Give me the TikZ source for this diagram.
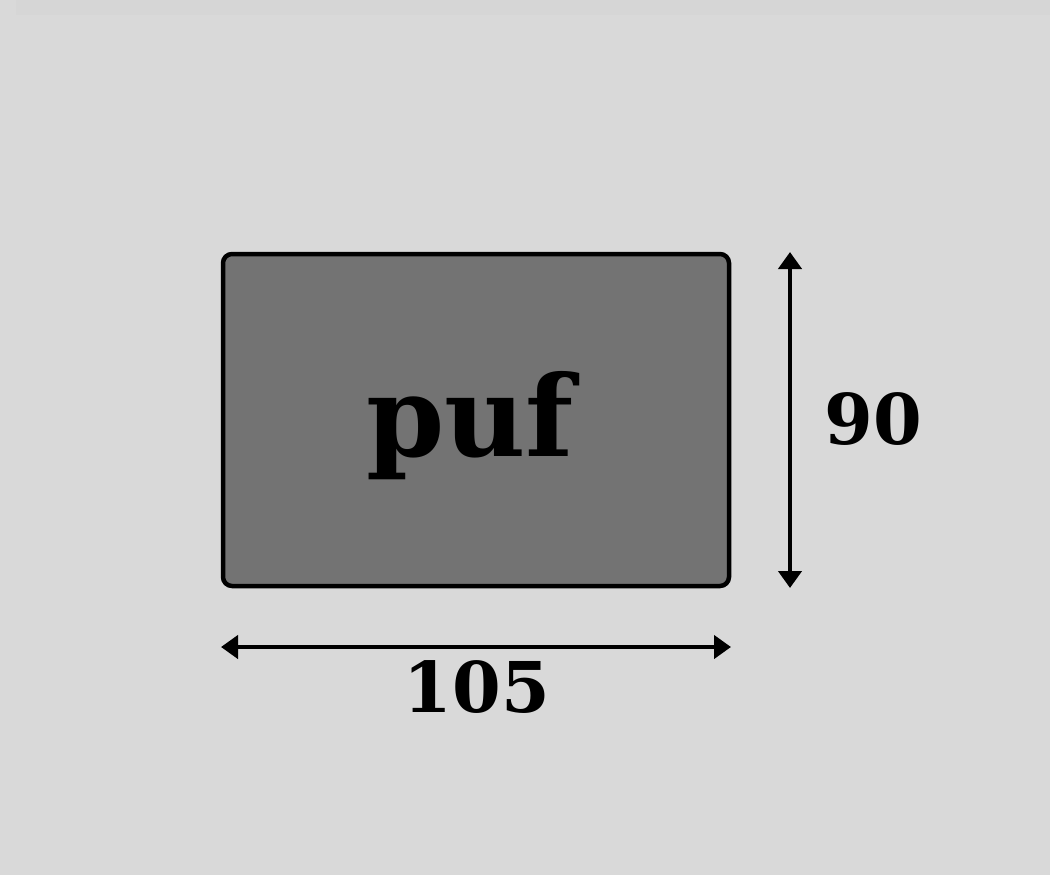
\documentclass[tikz,border=0pt]{standalone}
\usepackage{fontspec}
\setmainfont{DejaVu Serif}
\usetikzlibrary{arrows.meta}
\definecolor{bg}{HTML}{D9D9D9}
\definecolor{bgtop}{HTML}{D6D6D6}
\definecolor{boxfill}{HTML}{737373}
\tikzset{
  boxstyle/.style={draw=black, line width=4.5pt, fill=boxfill, rounded corners=9pt, minimum width=506pt, minimum height=332pt, inner sep=0pt},
  boxtext/.style={font=\fontsize{112}{120}\selectfont\bfseries, inner sep=0pt},
  dimline/.style={line width=4.5pt, {Triangle[width=23pt,length=17pt]}-{Triangle[width=23pt,length=17pt]}},
  dimlabel/.style={font=\fontsize{70}{80}\selectfont\bfseries, inner sep=0pt}
}
\begin{document}
\begin{tikzpicture}[x=1pt,y=-1pt]
\fill[bg] (0,0) rectangle (1050,875);
\fill[bgtop] (16,0) rectangle (1050,15);
\useasboundingbox (0,0) rectangle (1050,875);
\node[boxstyle] (box) at (476,420) {};
\node[boxtext] (puf) at (470,426) {puf};
\coordinate (vt) at (790,252);
\coordinate (vb) at (790,588);
\draw[dimline] (vt) -- (vb);
\node[dimlabel] (h) at (873,419) {90};
\coordinate (hl) at (221,647);
\coordinate (hr) at (731,647);
\draw[dimline] (hl) -- (hr);
\node[dimlabel] (w) at (477,687) {105};
\end{tikzpicture}
\end{document}
